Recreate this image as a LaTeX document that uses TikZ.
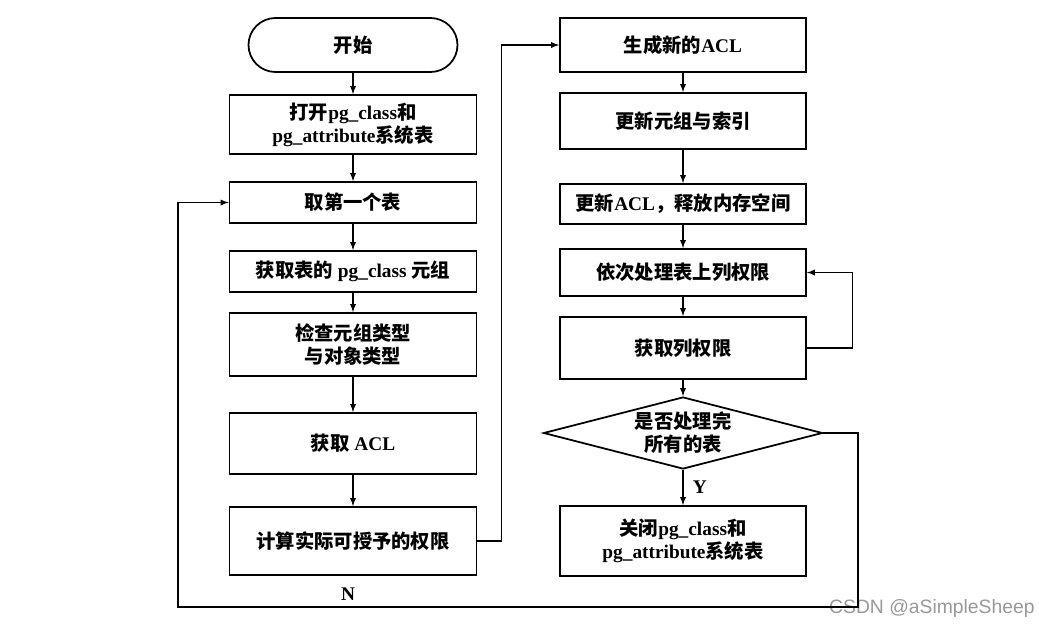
\documentclass[tikz,border=0pt]{standalone}
\usepackage{fontspec}
\setmainfont{Liberation Serif}
\setsansfont{Liberation Sans}
\newfontfamily\cjk{Noto Sans CJK SC}
\usetikzlibrary{shapes.geometric, arrows}
\tikzstyle{startstop} = [rectangle, rounded corners=0.54cm, minimum width=4.18cm, minimum height=1.08cm, text centered, draw=black, line width=1pt]
\tikzstyle{process} = [rectangle, minimum width=4.94cm, text centered, align=center, draw=black, line width=1pt]
\tikzstyle{decision} = [diamond, minimum width=5.58cm, minimum height=1.44cm, aspect=3.9, inner sep=0pt, text centered, align=center, draw=black, line width=1pt]
\tikzstyle{arrow} = [line width=0.6pt,->,>=latex]
\newcommand{\zh}[1]{{\cjk #1}}

\begin{document}
\begin{tikzpicture}[font=\fontsize{11}{13}\selectfont\bfseries]
    \useasboundingbox (0,0) rectangle (20.78,-12.52);
    % left column
    \node (start) [startstop] at (7.06,-0.90) {\zh{开始}};
    \node (open) [process, below of=start, node distance=1.59cm, minimum height=1.18cm] {\zh{打开}pg\_class\zh{和}\\pg\_attribute\zh{系统表}};
    \node (first) [process, below of=open, node distance=1.56cm, minimum height=0.82cm] {\zh{取第一个表}};
    \node (getcls) [process, below of=first, node distance=1.38cm, minimum height=0.82cm] {\zh{获取表的} pg\_class \zh{元组}};
    \node (check) [process, below of=getcls, node distance=1.46cm, minimum height=1.26cm] {\zh{检查元组类型}\\\zh{与对象类型}};
    \node (getacl) [process, below of=check, node distance=1.98cm, minimum height=1.22cm] {\zh{获取} ACL};
    \node (calc) [process, below of=getacl, node distance=1.95cm, minimum height=1.36cm] {\zh{计算实际可授予的权限}};
    % right column
    \node (newacl) [process, right of=start, node distance=6.6cm, minimum width=4.92cm, minimum height=1.08cm] {\zh{生成新的}ACL};
    \node (upd) [process, below of=newacl, node distance=1.52cm, minimum width=4.92cm, minimum height=1.12cm] {\zh{更新元组与索引}};
    \node (updacl) [process, below of=upd, node distance=1.66cm, minimum width=4.92cm, minimum height=0.8cm] {\zh{更新}ACL\zh{，释放内存空间}};
    \node (cols) [process, below of=updacl, node distance=1.37cm, minimum width=4.92cm, minimum height=0.94cm] {\zh{依次处理表上列权限}};
    \node (getcol) [process, below of=cols, node distance=1.51cm, minimum width=4.92cm, minimum height=1.24cm] {\zh{获取列权限}};
    \node (dec) [decision, below of=getcol, node distance=1.70cm] {\zh{是否处理完}\\\zh{所有的表}};
    \node (close) [process, below of=dec, node distance=2.16cm, minimum width=4.92cm, minimum height=1.4cm] {\zh{关闭}pg\_class\zh{和}\\pg\_attribute\zh{系统表}};
    \coordinate (cR) at (17.16,-12.14);
    \coordinate (cL) at (3.56,-12.14);
    \node (mark) [anchor=east, inner sep=0pt, font=\sffamily\fontsize{11}{13}\selectfont, text=black!40] at (20.70,-12.16) {CSDN @aSimpleSheep};

    \draw [arrow] (start) -- (open);
    \draw [arrow] (open) -- (first);
    \draw [arrow] (first) -- (getcls);
    \draw [arrow] (getcls) -- (check);
    \draw [arrow] (check) -- (getacl);
    \draw [arrow] (getacl) -- (calc);
    \draw [arrow] (calc.east) -- ++(0.49,0) |- (newacl.west);
    \draw [arrow] (newacl) -- (upd);
    \draw [arrow] (upd) -- (updacl);
    \draw [arrow] (updacl) -- (cols);
    \draw [arrow] (cols) -- (getcol);
    \draw [arrow] (getcol.east) -- ++(0.92,0) |- (cols.east);
    \draw [arrow] (getcol) -- (dec);
    \draw [arrow] (dec) -- node[right, xshift=2pt] {Y} (close);
    \draw [arrow] (dec.east) -| (cR) -- node[above, pos=0.75] {N} (cL) |- (first.west);
\end{tikzpicture}
\end{document}
